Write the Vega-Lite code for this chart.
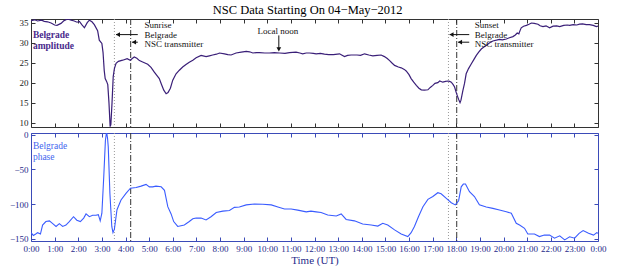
{
  "$schema": "https://vega.github.io/schema/vega-lite/v6.json",
  "background": "white",
  "padding": {"left": 8, "top": 3, "right": 5, "bottom": 0},
  "title": {"text": "NSC Data Starting On 04−May−2012", "font": "Liberation Serif", "fontSize": 12.5, "fontWeight": "normal", "color": "#000", "anchor": "middle", "offset": 2},
  "config": {
    "font": "Liberation Serif",
    "axis": {"labelFont": "Liberation Serif", "titleFont": "Liberation Serif", "grid": false, "domain": false, "labelFontSize": 9, "tickSize": -4, "labelPadding": 7, "tickWidth": 1}
  },
  "datasets": {
    "amp": [
      {"h":0,"v":35.5},{"h":0.15,"v":35.7},{"h":0.28,"v":35.4},{"h":0.45,"v":35.6},{"h":0.56,"v":35.3},{"h":0.7,"v":35.2},{"h":0.85,"v":34.9},{"h":1.0,"v":34.4},{"h":1.1,"v":34.3},{"h":1.27,"v":34.8},{"h":1.4,"v":35.5},{"h":1.55,"v":35.9},{"h":1.7,"v":35.6},{"h":1.83,"v":35.4},{"h":1.95,"v":35.1},{"h":2.05,"v":35.3},{"h":2.15,"v":34.5},{"h":2.26,"v":33.7},{"h":2.38,"v":35.0},{"h":2.47,"v":35.6},{"h":2.58,"v":35.2},{"h":2.68,"v":34.5},{"h":2.82,"v":33.0},{"h":2.89,"v":30.6},{"h":3.0,"v":29.8},{"h":3.05,"v":27.5},{"h":3.1,"v":23.0},{"h":3.14,"v":21.0},{"h":3.2,"v":20.3},{"h":3.25,"v":19.5},{"h":3.3,"v":15},{"h":3.35,"v":9},{"h":3.38,"v":9.5},{"h":3.43,"v":15},{"h":3.48,"v":21.5},{"h":3.53,"v":23.5},{"h":3.6,"v":24.8},{"h":3.7,"v":25.3},{"h":3.88,"v":25.6},{"h":4.07,"v":26.0},{"h":4.2,"v":25.6},{"h":4.3,"v":26.1},{"h":4.37,"v":26.4},{"h":4.48,"v":26.1},{"h":4.59,"v":25.5},{"h":4.75,"v":25.1},{"h":4.94,"v":24.6},{"h":5.08,"v":23.8},{"h":5.22,"v":22.6},{"h":5.35,"v":21.6},{"h":5.43,"v":21.0},{"h":5.52,"v":19.6},{"h":5.62,"v":18.1},{"h":5.72,"v":17.2},{"h":5.8,"v":17.5},{"h":5.9,"v":18.6},{"h":6.0,"v":20.6},{"h":6.07,"v":21.4},{"h":6.14,"v":22.2},{"h":6.28,"v":23.1},{"h":6.42,"v":23.9},{"h":6.56,"v":24.5},{"h":6.7,"v":25.1},{"h":6.85,"v":25.6},{"h":6.99,"v":26.2},{"h":7.2,"v":26.8},{"h":7.41,"v":26.5},{"h":7.55,"v":26.7},{"h":7.69,"v":26.9},{"h":7.85,"v":27.1},{"h":7.98,"v":27.4},{"h":8.19,"v":27.2},{"h":8.33,"v":27.0},{"h":8.47,"v":26.9},{"h":8.68,"v":27.4},{"h":8.9,"v":27.6},{"h":9.11,"v":27.8},{"h":9.25,"v":27.7},{"h":9.39,"v":27.4},{"h":9.55,"v":27.5},{"h":9.67,"v":27.5},{"h":9.9,"v":27.4},{"h":10.09,"v":27.4},{"h":10.3,"v":27.5},{"h":10.52,"v":27.4},{"h":10.75,"v":27.3},{"h":10.94,"v":27.5},{"h":11.22,"v":27.6},{"h":11.38,"v":27.4},{"h":11.5,"v":27.2},{"h":11.65,"v":27.4},{"h":11.79,"v":27.4},{"h":11.95,"v":27.3},{"h":12.07,"v":27.2},{"h":12.25,"v":27.3},{"h":12.42,"v":27.1},{"h":12.6,"v":27.0},{"h":12.8,"v":27.0},{"h":13.06,"v":27.2},{"h":13.15,"v":26.9},{"h":13.27,"v":26.5},{"h":13.4,"v":26.8},{"h":13.55,"v":26.9},{"h":13.8,"v":26.9},{"h":13.95,"v":26.8},{"h":14.12,"v":27.2},{"h":14.3,"v":26.9},{"h":14.47,"v":26.7},{"h":14.65,"v":26.8},{"h":14.82,"v":26.9},{"h":14.96,"v":26.5},{"h":15.08,"v":26.0},{"h":15.18,"v":25.5},{"h":15.28,"v":24.9},{"h":15.39,"v":24.3},{"h":15.55,"v":23.9},{"h":15.67,"v":23.7},{"h":15.8,"v":23.3},{"h":15.88,"v":22.9},{"h":16.0,"v":22.0},{"h":16.09,"v":21.0},{"h":16.2,"v":20.1},{"h":16.31,"v":19.3},{"h":16.42,"v":18.6},{"h":16.52,"v":18.2},{"h":16.65,"v":18.1},{"h":16.8,"v":18.2},{"h":16.9,"v":18.8},{"h":17.01,"v":19.3},{"h":17.1,"v":19.8},{"h":17.22,"v":20.0},{"h":17.3,"v":20.4},{"h":17.43,"v":20.1},{"h":17.55,"v":20.3},{"h":17.65,"v":20.4},{"h":17.72,"v":20.3},{"h":17.79,"v":20.1},{"h":17.87,"v":19.5},{"h":17.93,"v":18.9},{"h":18.0,"v":17.5},{"h":18.04,"v":16.8},{"h":18.1,"v":15.8},{"h":18.16,"v":15.0},{"h":18.2,"v":15.6},{"h":18.24,"v":16.8},{"h":18.28,"v":18.0},{"h":18.35,"v":19.8},{"h":18.42,"v":22.2},{"h":18.52,"v":23.5},{"h":18.64,"v":24.7},{"h":18.75,"v":25.8},{"h":18.85,"v":26.8},{"h":18.95,"v":27.6},{"h":19.06,"v":28.4},{"h":19.17,"v":28.9},{"h":19.27,"v":29.3},{"h":19.4,"v":29.9},{"h":19.55,"v":30.4},{"h":19.7,"v":30.6},{"h":19.83,"v":30.8},{"h":19.95,"v":30.7},{"h":20.12,"v":30.9},{"h":20.25,"v":31.2},{"h":20.4,"v":31.5},{"h":20.5,"v":31.9},{"h":20.58,"v":32.4},{"h":20.65,"v":32.2},{"h":20.7,"v":33.0},{"h":20.75,"v":33.7},{"h":20.85,"v":34.1},{"h":20.97,"v":34.3},{"h":21.08,"v":34.6},{"h":21.18,"v":34.9},{"h":21.3,"v":34.8},{"h":21.46,"v":34.6},{"h":21.55,"v":34.2},{"h":21.67,"v":34.0},{"h":21.8,"v":34.2},{"h":21.95,"v":33.7},{"h":22.1,"v":34.1},{"h":22.25,"v":34.2},{"h":22.38,"v":34.0},{"h":22.55,"v":34.3},{"h":22.7,"v":34.4},{"h":22.8,"v":34.3},{"h":22.95,"v":34.5},{"h":23.1,"v":34.4},{"h":23.22,"v":34.6},{"h":23.35,"v":34.7},{"h":23.5,"v":34.5},{"h":23.64,"v":34.5},{"h":23.8,"v":34.3},{"h":23.93,"v":34.0},{"h":24.0,"v":34.1}
    ],
    "phase": [
      {"h":0,"v":-141},{"h":0.1,"v":-145},{"h":0.2,"v":-143},{"h":0.28,"v":-141},{"h":0.4,"v":-143},{"h":0.49,"v":-130},{"h":0.63,"v":-125},{"h":0.78,"v":-124},{"h":0.92,"v":-128},{"h":1.06,"v":-132},{"h":1.2,"v":-128},{"h":1.34,"v":-132},{"h":1.48,"v":-130},{"h":1.62,"v":-125},{"h":1.8,"v":-118},{"h":1.94,"v":-123},{"h":2.09,"v":-125},{"h":2.23,"v":-120},{"h":2.33,"v":-114},{"h":2.47,"v":-118},{"h":2.61,"v":-116},{"h":2.75,"v":-116},{"h":2.85,"v":-115},{"h":2.93,"v":-124},{"h":3.0,"v":-113},{"h":3.08,"v":-60},{"h":3.15,"v":-8},{"h":3.2,"v":4},{"h":3.24,"v":-5},{"h":3.27,"v":-17.5},{"h":3.34,"v":-84.5},{"h":3.42,"v":-132},{"h":3.47,"v":-141},{"h":3.53,"v":-136},{"h":3.64,"v":-108},{"h":3.81,"v":-94},{"h":4.02,"v":-84.5},{"h":4.21,"v":-77},{"h":4.45,"v":-76},{"h":4.66,"v":-74},{"h":4.87,"v":-71.5},{"h":5.01,"v":-75},{"h":5.15,"v":-75},{"h":5.29,"v":-74},{"h":5.51,"v":-75},{"h":5.65,"v":-80},{"h":5.79,"v":-103.6},{"h":5.93,"v":-114},{"h":6.04,"v":-125},{"h":6.21,"v":-132},{"h":6.35,"v":-131},{"h":6.49,"v":-130},{"h":6.7,"v":-125},{"h":6.85,"v":-121},{"h":6.99,"v":-120},{"h":7.2,"v":-120},{"h":7.41,"v":-122.7},{"h":7.62,"v":-118},{"h":7.84,"v":-112},{"h":8.12,"v":-110},{"h":8.4,"v":-109},{"h":8.61,"v":-104.6},{"h":8.82,"v":-104},{"h":9.11,"v":-101},{"h":9.46,"v":-99.8},{"h":9.81,"v":-100},{"h":10.17,"v":-101},{"h":10.45,"v":-104},{"h":10.73,"v":-107},{"h":11.01,"v":-107},{"h":11.29,"v":-108.5},{"h":11.65,"v":-111},{"h":11.85,"v":-110},{"h":12.07,"v":-111},{"h":12.28,"v":-112},{"h":12.56,"v":-115.5},{"h":12.92,"v":-117},{"h":13.13,"v":-114},{"h":13.34,"v":-122},{"h":13.69,"v":-124},{"h":14.04,"v":-128.5},{"h":14.4,"v":-130},{"h":14.68,"v":-131.5},{"h":14.89,"v":-127.5},{"h":15.1,"v":-130},{"h":15.39,"v":-137},{"h":15.67,"v":-142.8},{"h":15.95,"v":-146.6},{"h":16.09,"v":-141},{"h":16.23,"v":-132},{"h":16.4,"v":-118},{"h":16.59,"v":-103.6},{"h":16.8,"v":-93},{"h":17.01,"v":-89},{"h":17.22,"v":-83.5},{"h":17.36,"v":-85},{"h":17.58,"v":-91.7},{"h":17.79,"v":-97.9},{"h":17.96,"v":-101},{"h":18.1,"v":-95},{"h":18.21,"v":-75},{"h":18.3,"v":-71},{"h":18.39,"v":-71},{"h":18.56,"v":-82},{"h":18.77,"v":-89},{"h":18.98,"v":-101},{"h":19.27,"v":-104},{"h":19.55,"v":-106},{"h":19.83,"v":-108.5},{"h":20.12,"v":-111},{"h":20.33,"v":-113},{"h":20.54,"v":-127.5},{"h":20.68,"v":-130},{"h":20.89,"v":-134.7},{"h":21.03,"v":-142.8},{"h":21.31,"v":-143},{"h":21.52,"v":-146.6},{"h":21.73,"v":-144.5},{"h":21.95,"v":-144.5},{"h":22.16,"v":-149},{"h":22.38,"v":-145.5},{"h":22.59,"v":-151.4},{"h":22.8,"v":-147},{"h":23.01,"v":-149},{"h":23.2,"v":-142},{"h":23.37,"v":-138},{"h":23.6,"v":-142},{"h":23.81,"v":-144.5},{"h":23.95,"v":-141},{"h":24,"v":-142}
    ],
    "vlines": [
      {"h":3.53,"kind":"dot"},{"h":4.22,"kind":"dashdot"},{"h":17.67,"kind":"dot"},{"h":18.02,"kind":"dashdot"}
    ],
    "notesLeft": [
      {"h":4.8,"v":34.3,"t":"Sunrise"},
      {"h":4.8,"v":31.9,"t":"Belgrade"},
      {"h":4.8,"v":29.6,"t":"NSC transmitter"},
      {"h":18.78,"v":34.3,"t":"Sunset"},
      {"h":18.78,"v":31.9,"t":"Belgrade"},
      {"h":18.78,"v":29.6,"t":"NSC transmitter"}
    ],
    "notesCenter": [
      {"h":10.45,"v":32.9,"t":"Local noon"}
    ],
    "hshafts": [
      {"x1":3.6,"x2":4.52,"v":32.0},
      {"x1":4.28,"x2":4.52,"v":30.1},
      {"x1":17.72,"x2":18.55,"v":32.0},
      {"x1":18.08,"x2":18.55,"v":30.1}
    ],
    "heads": [
      {"h":3.68,"v":32.0},
      {"h":4.36,"v":30.1},
      {"h":17.8,"v":32.0},
      {"h":18.16,"v":30.1}
    ],
    "vshafts": [{"h":10.49,"v1":31.8,"v2":28.3}],
    "vheads": [{"h":10.49,"v":28.3}],
    "ampLabel": [{"h":0.08,"v":31.9,"t":"Belgrade"},{"h":0.08,"v":29.2,"t":"amplitude"}],
    "phLabel": [{"h":0.08,"v":-16,"t":"Belgrade"},{"h":0.08,"v":-32,"t":"phase"}]
  },
  "spacing": 6,
  "bounds": "flush",
  "vconcat": [
    {
      "width": 567,
      "height": 108,
      "view": {"stroke": "#333", "strokeWidth": 1},
      "resolve": {"axis": {"x": "independent", "y": "independent"}},
      "layer": [
        {
          "data": {"name": "vlines"},
          "transform": [{"filter": "datum.kind == 'dot'"}],
          "mark": {"type": "rule", "color": "#9a9a9a", "strokeDash": [1, 2], "strokeWidth": 1},
          "encoding": {
            "x": {"field": "h", "type": "quantitative", "scale": {"domain": [0, 24], "nice": false}, "axis": {"orient": "top", "labels": false, "minExtent": 0, "maxExtent": 0, "values": [0,1,2,3,4,5,6,7,8,9,10,11,12,13,14,15,16,17,18,19,20,21,22,23,24], "title": null, "tickColor": "#333"}}
          }
        },
        {
          "data": {"name": "vlines"},
          "transform": [{"filter": "datum.kind == 'dashdot'"}],
          "mark": {"type": "rule", "color": "#333", "strokeDash": [6, 2, 1, 2], "strokeWidth": 1},
          "encoding": {
            "x": {"field": "h", "type": "quantitative", "axis": null}
          }
        },
        {
          "data": {"name": "amp"},
          "mark": {"type": "line", "color": "#3a1f78", "strokeWidth": 1.2, "clip": true},
          "encoding": {
            "x": {"field": "h", "type": "quantitative", "axis": {"orient": "bottom", "labels": false, "minExtent": 0, "maxExtent": 0, "values": [0,1,2,3,4,5,6,7,8,9,10,11,12,13,14,15,16,17,18,19,20,21,22,23,24], "title": null, "tickColor": "#333"}},
            "y": {"field": "v", "type": "quantitative", "scale": {"domain": [8.9, 35.9], "nice": false, "zero": false}, "axis": {"orient": "left", "values": [10,15,20,25,30,35], "title": null, "labelColor": "#222", "tickColor": "#333"}}
          }
        },
        {
          "data": {"name": "amp"},
          "mark": {"type": "line", "opacity": 0},
          "encoding": {
            "x": {"field": "h", "type": "quantitative", "axis": null},
            "y": {"field": "v", "type": "quantitative", "axis": {"orient": "right", "labels": false, "minExtent": 0, "maxExtent": 0, "values": [10,15,20,25,30,35], "title": null, "tickColor": "#333"}}
          }
        },
        {
          "data": {"name": "notesLeft"},
          "mark": {"type": "text", "fontSize": 9, "color": "#111", "baseline": "middle", "align": "left"},
          "encoding": {
            "x": {"field": "h", "type": "quantitative", "axis": null},
            "y": {"field": "v", "type": "quantitative", "axis": null},
            "text": {"field": "t"}
          }
        },
        {
          "data": {"name": "notesCenter"},
          "mark": {"type": "text", "fontSize": 9, "color": "#111", "baseline": "middle", "align": "center"},
          "encoding": {
            "x": {"field": "h", "type": "quantitative", "axis": null},
            "y": {"field": "v", "type": "quantitative", "axis": null},
            "text": {"field": "t"}
          }
        },
        {
          "data": {"name": "hshafts"},
          "mark": {"type": "rule", "color": "#111", "strokeWidth": 1},
          "encoding": {
            "x": {"field": "x1", "type": "quantitative", "axis": null},
            "x2": {"field": "x2"},
            "y": {"field": "v", "type": "quantitative", "axis": null}
          }
        },
        {
          "data": {"name": "heads"},
          "mark": {"type": "point", "filled": true, "color": "#111", "size": 22, "shape": "triangle-left", "opacity": 1},
          "encoding": {
            "x": {"field": "h", "type": "quantitative", "axis": null},
            "y": {"field": "v", "type": "quantitative", "axis": null}
          }
        },
        {
          "data": {"name": "vshafts"},
          "mark": {"type": "rule", "color": "#111", "strokeWidth": 1},
          "encoding": {
            "x": {"field": "h", "type": "quantitative", "axis": null},
            "y": {"field": "v1", "type": "quantitative", "axis": null},
            "y2": {"field": "v2"}
          }
        },
        {
          "data": {"name": "vheads"},
          "mark": {"type": "point", "filled": true, "color": "#111", "size": 22, "shape": "triangle-down", "opacity": 1},
          "encoding": {
            "x": {"field": "h", "type": "quantitative", "axis": null},
            "y": {"field": "v", "type": "quantitative", "axis": null}
          }
        },
        {
          "data": {"name": "ampLabel"},
          "mark": {"type": "text", "fontSize": 9.5, "fontWeight": "bold", "color": "#4a2a8c", "align": "left", "baseline": "middle"},
          "encoding": {
            "x": {"field": "h", "type": "quantitative", "axis": null},
            "y": {"field": "v", "type": "quantitative", "axis": null},
            "text": {"field": "t"}
          }
        }
      ]
    },
    {
      "width": 567,
      "height": 108,
      "view": {"stroke": "#3b4bb8", "strokeWidth": 1},
      "resolve": {"axis": {"x": "independent", "y": "independent"}},
      "layer": [
        {
          "data": {"name": "vlines"},
          "transform": [{"filter": "datum.kind == 'dot'"}],
          "mark": {"type": "rule", "color": "#9a9a9a", "strokeDash": [1, 2], "strokeWidth": 1},
          "encoding": {
            "x": {"field": "h", "type": "quantitative", "scale": {"domain": [0, 24], "nice": false}, "axis": {"orient": "top", "labels": false, "minExtent": 0, "maxExtent": 0, "values": [0,1,2,3,4,5,6,7,8,9,10,11,12,13,14,15,16,17,18,19,20,21,22,23,24], "title": null, "tickColor": "#3b4bb8"}}
          }
        },
        {
          "data": {"name": "vlines"},
          "transform": [{"filter": "datum.kind == 'dashdot'"}],
          "mark": {"type": "rule", "color": "#333", "strokeDash": [6, 2, 1, 2], "strokeWidth": 1},
          "encoding": {
            "x": {"field": "h", "type": "quantitative", "axis": null}
          }
        },
        {
          "data": {"name": "phase"},
          "mark": {"type": "line", "color": "#3a5cff", "strokeWidth": 1.1, "clip": true},
          "encoding": {
            "x": {"field": "h", "type": "quantitative", "axis": {"orient": "bottom", "values": [0,1,2,3,4,5,6,7,8,9,10,11,12,13,14,15,16,17,18,19,20,21,22,23,24], "labelExpr": "(datum.value % 24) + ':00'", "title": "Time (UT)", "titleFontSize": 11, "titleFontWeight": "normal", "titleColor": "#1f2a8a", "titlePadding": 1, "labelColor": "#1f2a8a", "tickColor": "#3b4bb8", "labelFlush": false, "labelOverlap": false}},
            "y": {"field": "v", "type": "quantitative", "scale": {"domain": [-153, 2.5], "nice": false, "zero": false}, "axis": {"orient": "left", "values": [-150,-100,-50,0], "title": null, "labelColor": "#1f2a8a", "tickColor": "#3b4bb8"}}
          }
        },
        {
          "data": {"name": "phase"},
          "mark": {"type": "line", "opacity": 0},
          "encoding": {
            "x": {"field": "h", "type": "quantitative", "axis": null},
            "y": {"field": "v", "type": "quantitative", "axis": {"orient": "right", "labels": false, "minExtent": 0, "maxExtent": 0, "values": [-150,-100,-50,0], "title": null, "tickColor": "#3b4bb8"}}
          }
        },
        {
          "data": {"name": "phLabel"},
          "mark": {"type": "text", "fontSize": 9.5, "color": "#4466ee", "align": "left", "baseline": "middle"},
          "encoding": {
            "x": {"field": "h", "type": "quantitative", "axis": null},
            "y": {"field": "v", "type": "quantitative", "axis": null},
            "text": {"field": "t"}
          }
        }
      ]
    }
  ]
}
